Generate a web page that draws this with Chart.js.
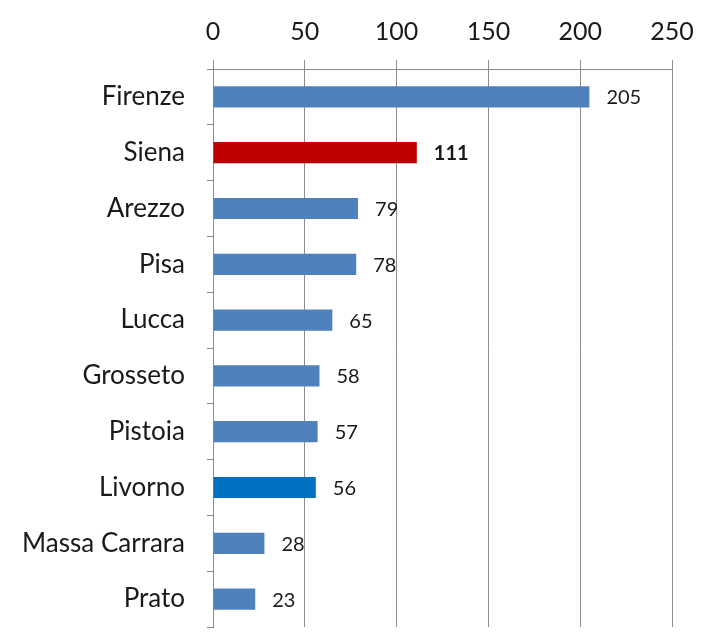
<!DOCTYPE html>
<html>
<head>
<meta charset="utf-8">
<script src="https://cdn.jsdelivr.net/npm/chart.js@4/dist/chart.umd.min.js"></script>
<style>
    body { margin: 0; background: #fff; }
    #wrap { width: 702px; height: 635px; }
</style>
</head>
<body>
<div id="wrap"><canvas id="Chart" width="702" height="635"></canvas></div>
<script>
const provinces = ['Firenze', 'Siena', 'Arezzo', 'Pisa', 'Lucca', 'Grosseto', 'Pistoia', 'Livorno', 'Massa Carrara', 'Prato'];
const values = [205, 111, 79, 78, 65, 58, 57, 56, 28, 23];
const barColors = ['#4f81bd', '#c00000', '#4f81bd', '#4f81bd', '#4f81bd', '#4f81bd', '#4f81bd', '#0070c0', '#4f81bd', '#4f81bd'];
const xTicks = [0, 50, 100, 150, 200, 250];

const gridGray = '#8c8c8c';

// draws the number just right of each bar
const valueLabels = {
    id: 'valueLabels',
    afterDatasetsDraw(chart) {
        const ctx = chart.ctx;
        const meta = chart.getDatasetMeta(0);
        ctx.save();
        ctx.textAlign = 'left';
        ctx.textBaseline = 'middle';
        meta.data.forEach(function (bar, i) {
            const bold = provinces[i] === 'Siena';
            ctx.font = (bold ? 'bold ' : '') + '20px Lato';
            ctx.fillStyle = '#1a1a1a';
            ctx.fillText(values[i], bar.x + 17, bar.y + 1);
        });
        ctx.restore();
    }
};

new Chart(document.getElementById('Chart'), {
    type: 'bar',
    data: {
        labels: provinces,
        datasets: [{
            data: values,
            backgroundColor: barColors,
            borderWidth: 0,
            barPercentage: 0.38,
            categoryPercentage: 1
        }]
    },
    options: {
        indexAxis: 'y',
        responsive: false,
        animation: false,
        layout: { padding: { left: 0, right: 30, top: 0, bottom: 8 } },
        plugins: {
            legend: { display: false },
            tooltip: { enabled: false }
        },
        scales: {
            x: {
                position: 'top',
                min: 0,
                max: 250,
                afterBuildTicks: function (scale) {
                    scale.ticks = xTicks.map(v => ({ value: v }));
                },
                afterFit: function (scale) {
                    scale.height = 69;
                    scale.paddingLeft = 0;
                    scale.paddingRight = 0;
                },
                grid: { color: gridGray, tickLength: 9, lineWidth: 1 },
                border: { color: gridGray },
                ticks: {
                    font: { family: 'Lato', size: 25 },
                    color: '#1a1a1a',
                    padding: 13
                }
            },
            y: {
                afterFit: function (scale) {
                    scale.width = 213;
                    scale.paddingTop = 0;
                    scale.paddingBottom = 0;
                },
                grid: { drawOnChartArea: false, color: gridGray, tickLength: 6, offset: true },
                border: { color: gridGray },
                ticks: {
                    font: { family: 'Lato', size: 26 },
                    color: '#1a1a1a',
                    padding: 22
                }
            }
        }
    },
    plugins: [valueLabels]
});
</script>
</body>
</html>
